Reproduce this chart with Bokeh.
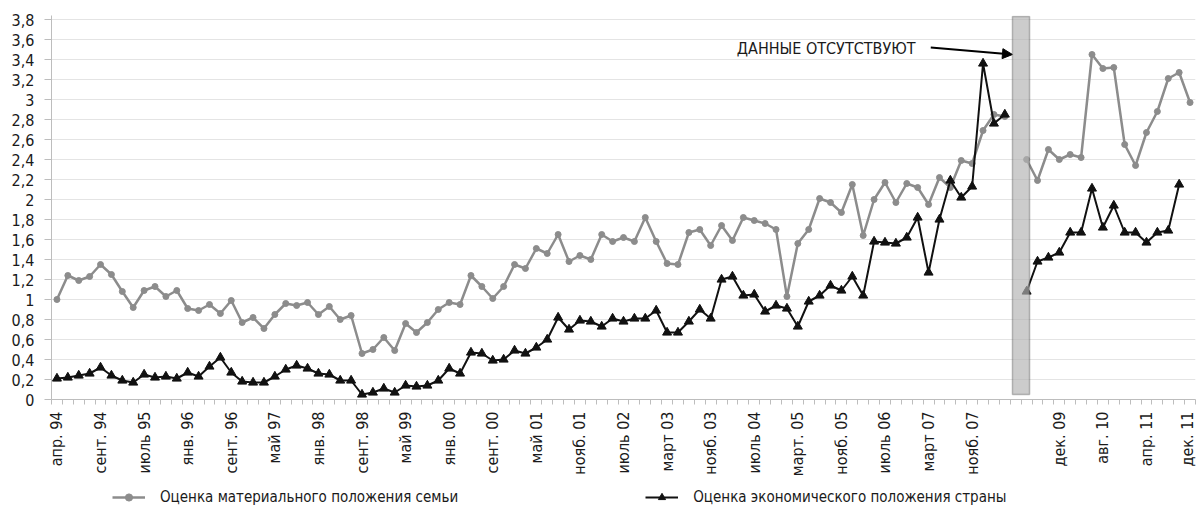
import math
from bokeh.plotting import figure
from bokeh.layouts import column
from bokeh.models import (Range1d, FixedTicker, BoxAnnotation, Label, Arrow,
                          NormalHead, Legend, LegendItem, ColumnDataSource)
from bokeh.embed import file_html
from bokeh.resources import INLINE

nan = float("nan")

# Оценка материального положения семьи (one value per survey wave, nan = no data)
family = [
    1.00, 1.24, 1.19, 1.23, 1.35, 1.25, 1.08, 0.92, 1.09, 1.13,
    1.03, 1.09, 0.91, 0.89, 0.95, 0.86, 0.99, 0.77, 0.82, 0.71,
    0.85, 0.96, 0.94, 0.97, 0.85, 0.93, 0.80, 0.84, 0.46, 0.50,
    0.62, 0.49, 0.76, 0.67, 0.77, 0.90, 0.97, 0.95, 1.24, 1.13,
    1.01, 1.13, 1.35, 1.31, 1.51, 1.46, 1.65, 1.38, 1.44, 1.40,
    1.65, 1.58, 1.62, 1.58, 1.82, 1.58, 1.36, 1.35, 1.67, 1.70,
    1.54, 1.74, 1.59, 1.82, 1.79, 1.76, 1.70, 1.03, 1.56, 1.70,
    2.01, 1.97, 1.87, 2.15, 1.64, 2.00, 2.17, 1.97, 2.16, 2.12,
    1.95, 2.22, 2.12, 2.39, 2.36, 2.69, 2.85, 2.83, nan, 2.40,
    2.19, 2.50, 2.40, 2.45, 2.42, 3.45, 3.31, 3.32, 2.55, 2.34,
    2.67, 2.88, 3.21, 3.27, 2.97,
]

# Оценка экономического положения страны
country = [
    0.21, 0.22, 0.24, 0.26, 0.32, 0.24, 0.19, 0.17, 0.25, 0.22,
    0.23, 0.21, 0.27, 0.23, 0.33, 0.42, 0.27, 0.18, 0.17, 0.17,
    0.23, 0.30, 0.34, 0.31, 0.26, 0.25, 0.19, 0.19, 0.05, 0.07,
    0.11, 0.07, 0.14, 0.13, 0.14, 0.19, 0.31, 0.26, 0.47, 0.46,
    0.39, 0.40, 0.49, 0.46, 0.52, 0.60, 0.82, 0.70, 0.79, 0.78,
    0.73, 0.81, 0.78, 0.81, 0.81, 0.89, 0.67, 0.67, 0.78, 0.90,
    0.81, 1.20, 1.23, 1.04, 1.05, 0.88, 0.94, 0.91, 0.73, 0.98,
    1.04, 1.14, 1.09, 1.23, 1.04, 1.58, 1.57, 1.56, 1.62, 1.82,
    1.27, 1.80, 2.19, 2.02, 2.13, 3.36, 2.76, 2.85, nan, 1.08,
    1.38, 1.42, 1.47, 1.67, 1.67, 2.11, 1.72, 1.94, 1.67, 1.67,
    1.57, 1.67, 1.69, 2.15, nan,
]

# labels shown on every 4th wave
x_labels = ["апр. 94", "сент. 94", "июль 95", "янв. 96", "сент. 96", "май 97",
            "янв. 98", "сент. 98", "май 99", "янв. 00", "сент. 00", "май 01",
            "нояб. 01", "июль 02", "март 03", "нояб. 03", "июль 04", "март. 05",
            "нояб. 05", "июль 06", "март 07", "нояб. 07", "", "дек. 09",
            "авг. 10", "апр. 11", "дек. 11"]
label_step = 4

y_tick_values = [0, 0.2, 0.4, 0.6, 0.8, 1, 1.2, 1.4, 1.6, 1.8, 2, 2.2, 2.4,
                 2.6, 2.8, 3, 3.2, 3.4, 3.6, 3.8]
y_tick_labels = ["0", "0,2", "0,4", "0,6", "0,8", "1", "1,2", "1,4", "1,6",
                 "1,8", "2", "2,2", "2,4", "2,6", "2,8", "3", "3,2", "3,4",
                 "3,6", "3,8"]

series_names = ["Оценка материального положения семьи",
                "Оценка экономического положения страны"]
note_text = "ДАННЫЕ ОТСУТСТВУЮТ"

FONT = "'DejaVu Sans Condensed', Roboto, sans-serif"
FS = "16px"
TXT = "#1a1a1a"
AX = "#bdbdbd"
FAM_STYLE = dict(color="#8c8c8c", width=2.5, marker="circle", size=6)
CTY_STYLE = dict(color="#111111", width=2, marker="triangle", size=9)

n = len(family)
xs = list(range(n))
src = ColumnDataSource(dict(x=xs, family=family, country=country))

p = figure(frame_width=1144, frame_height=384,
           x_range=Range1d(-0.5, n - 0.5), y_range=Range1d(0, 3.84),
           output_backend="svg", toolbar_location=None,
           min_border_left=51, min_border_right=1, min_border_top=15,
           min_border_bottom=0, outline_line_color=None,
           background_fill_color="white", border_fill_color="white")

p.xgrid.visible = False
p.ygrid.ticker = FixedTicker(ticks=y_tick_values)
p.ygrid.grid_line_color = "#e4e4e4"
p.ygrid.grid_line_width = 1

# y axis
ya = p.yaxis[0]
ya.ticker = FixedTicker(ticks=y_tick_values)
ya.major_label_overrides = {v: l for v, l in zip(y_tick_values, y_tick_labels)}
ya.axis_line_color = AX
ya.major_tick_line_color = AX
ya.major_tick_out = 7
ya.major_tick_in = 0
ya.minor_tick_line_color = None
ya.major_label_standoff = 10
ya.major_label_text_font = FONT
ya.major_label_text_font_size = FS
ya.major_label_text_color = TXT

# x axis
label_pos = [i * label_step for i in range(len(x_labels))]
xa = p.xaxis[0]
xa.ticker = FixedTicker(ticks=label_pos, minor_ticks=[i - 0.5 for i in range(n + 1)])
xa.major_label_overrides = {pos: lab for pos, lab in zip(label_pos, x_labels)}
xa.major_label_orientation = math.pi / 2
xa.axis_line_color = AX
xa.major_tick_line_color = None
xa.major_tick_out = 0
xa.major_tick_in = 0
xa.minor_tick_line_color = AX
xa.minor_tick_out = 5
xa.minor_tick_in = 0
xa.major_label_standoff = 7
xa.major_label_text_font = FONT
xa.major_label_text_font_size = FS
xa.major_label_text_color = TXT

def add_series(fig, xcol, ycol, source, st):
    ln = fig.line(xcol, ycol, source=source, line_color=st["color"],
                  line_width=st["width"])
    pt = fig.scatter(xcol, ycol, source=source, marker=st["marker"],
                     size=st["size"], fill_color=st["color"],
                     line_color=st["color"])
    return [ln, pt]

add_series(p, "x", "family", src, FAM_STYLE)
add_series(p, "x", "country", src, CTY_STYLE)

# "no data" bar
p.add_layout(BoxAnnotation(left=87.7, right=89.27, bottom=0.05, top=3.83,
                           fill_color="#b3b3b3", fill_alpha=0.67,
                           line_color="#333333", line_width=1.5, level="overlay"))
p.add_layout(Label(x=78.8, y=3.51, text=note_text, text_baseline="middle",
                   text_align="right", text_font=FONT, text_font_size="16px",
                   text_color=TXT))
p.add_layout(Arrow(end=NormalHead(size=10, fill_color="black", line_color="black"),
                   x_start=80.2, y_start=3.52, x_end=87.7, y_end=3.45,
                   line_color="black", line_width=2))

# legend strip below the chart (proxy renderers hold no visible point)
lg = figure(width=1196, height=36, x_range=Range1d(0, 1), y_range=Range1d(0, 1),
            output_backend="svg", toolbar_location=None, min_border=0,
            x_axis_location=None, y_axis_location=None,
            outline_line_color=None, border_fill_color="white")
lg.grid.visible = False
proxy = ColumnDataSource(dict(x=[nan], y=[nan]))
leg_r1 = add_series(lg, "x", "y", proxy, FAM_STYLE)
leg_r2 = add_series(lg, "x", "y", proxy, CTY_STYLE)
legend = Legend(items=[LegendItem(label=series_names[0], renderers=leg_r1),
                       LegendItem(label=series_names[1], renderers=leg_r2)],
                orientation="horizontal", location=(61, 9),
                spacing=187, glyph_width=33, glyph_height=18, label_standoff=15,
                border_line_color=None, background_fill_alpha=0,
                label_text_font=FONT, label_text_font_size="15px",
                label_text_color=TXT, padding=0, margin=0)
lg.add_layout(legend, "center")

layout = column(p, lg, spacing=0)
open("out.html", "w").write(file_html(layout, INLINE))
